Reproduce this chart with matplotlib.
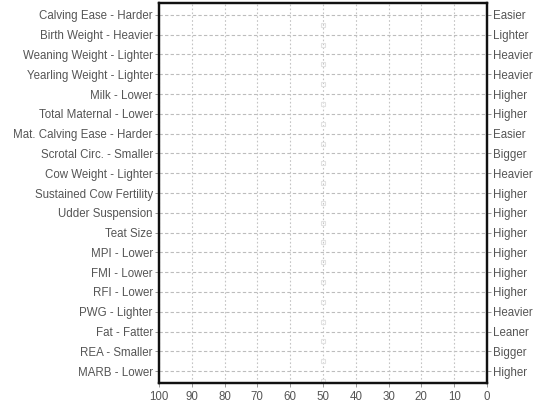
import numpy as np
import matplotlib
matplotlib.use("Agg")
import matplotlib.pyplot as plt

plt.rcParams['font.family'] = ['Liberation Sans', 'DejaVu Sans']

# trait labels (left = low end, right = high end)
left_labels = ["Calving Ease - Harder", "Birth Weight - Heavier", "Weaning Weight - Lighter",
               "Yearling Weight - Lighter", "Milk - Lower", "Total Maternal - Lower",
               "Mat. Calving Ease - Harder", "Scrotal Circ. - Smaller", "Cow Weight - Lighter",
               "Sustained Cow Fertility", "Udder Suspension", "Teat Size", "MPI - Lower",
               "FMI - Lower", "RFI - Lower", "PWG - Lighter", "Fat - Fatter",
               "REA - Smaller", "MARB - Lower"]
right_labels = ["Easier", "Lighter", "Heavier", "Heavier", "Higher", "Higher", "Easier",
                "Bigger", "Heavier", "Higher", "Higher", "Higher", "Higher", "Higher",
                "Higher", "Heavier", "Leaner", "Bigger", "Higher"]
# faint breed-average markers
avg_pct = [50] * len(left_labels)
xticks = [100, 90, 80, 70, 60, 50, 40, 30, 20, 10, 0]

n = len(left_labels)
y = np.arange(n)

fig = plt.figure(figsize=(5.34, 4.05), dpi=100)
ax = fig.add_axes([0.2978, 0.0543, 0.614, 0.9383])

ax.plot(avg_pct, y + 0.5, 's', ms=2.5, mfc='none', mec='#e2e2e2', mew=0.8)

ax.set_xlim(100, 0)
ax.set_ylim(n - 0.4, -0.6)
ax.set_xticks(xticks)
ax.set_yticks(y)
ax.set_yticklabels(left_labels)

for yy in y:
    ax.axhline(yy, color='#bdbdbd', lw=0.8, ls=(0, (3, 2)), zorder=0)
for xx in xticks:
    ax.axvline(xx, color='#c4c4c4', lw=0.8, ls=(0, (1.5, 2)), zorder=0)

ax2 = ax.twinx()
ax2.set_ylim(ax.get_ylim())
ax2.set_yticks(y)
ax2.set_yticklabels(right_labels)

for a in (ax, ax2):
    a.tick_params(labelsize=8.3, labelcolor='#555555', length=3, width=0.6, color='#888888', pad=1.5)
    for s in a.spines.values():
        s.set_linewidth(1.6)
        s.set_color('#111111')
ax.tick_params(axis='x', pad=3)

fig.savefig("out.png", dpi=100)
